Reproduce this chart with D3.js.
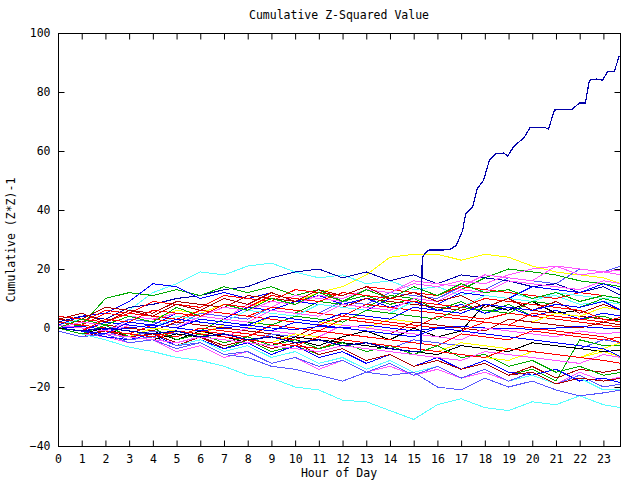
<!DOCTYPE html>
<html><head><meta charset="utf-8">
<script src="https://cdn.jsdelivr.net/npm/d3@7"></script>
<style>
body{margin:0;background:#fff;}
text{font-family:"DejaVu Sans Mono",monospace;font-size:11.5px;fill:#000;}
</style></head>
<body><svg id="c" width="640" height="480"></svg>
<script>
const hours = [0,1,2,3,4,5,6,7,8,9,10,11,12,13,14,15,16,17,18,19,20,21,22,23,23.75];
const xTicks = d3.range(0,24);
const yTicks = [-40,-20,0,20,40,60,80,100];
const title = "Cumulative Z-Squared Value";
const xTitle = "Hour of Day";
const yTitle = "Cumulative (Z*Z)-1";

const seriesColors = [
 "#55ffff","#ffff00","#5555ff","#00aa00","#0000aa","#00aa00","#0000ff","#ff55ff","#ff0000","#aa0000",
 "#0000ff","#000000","#ff0000","#55ffff","#00aa00","#ffff00","#ff0000","#aa0000","#0000ff","#ff55ff",
 "#ff0000","#5555ff","#00aa00","#ffff00","#ff0000","#aa0000","#ff55ff","#0000ff","#55ffff","#5555ff",
 "#55ffff","#5555ff","#000000","#ff0000","#aa0000","#00aa00","#ffff00","#ff55ff","#ff0000","#0000ff",
 "#ff55ff","#ff55ff","#00aa00","#ff0000","#aa0000","#0000ff"
];
const series = [
 [1,3,2,6,12,15,19,18,21,22,19,17,18,15,16,13,14,11,13,12,10,11,8,9,8],
 [0,2,1,4,3,6,5,8,7,10,9,12,14,18,24,25,25,23,25,24,21,19,18,17,15],
 [1,0,-1,3,2,1,5,4,3,7,6,5,9,8,12,11,10,14,13,17,16,15,20,19,21],
 [0,-1,-2,2,1,0,4,3,2,6,5,9,8,7,11,10,9,13,17,20,19,18,16,15,14],
 [2,4,3,7,8,10,11,13,14,17,19,20,17,19,16,18,15,18,17,16,14,15,12,14,11],
 [0,1,10,12,11,13,11,14,12,14,11,13,9,11,8,10,6,9,5,8,4,6,3,4,2],
 [1,4,5,9,15,14,10,12,10,12,9,11,8,10,7,9,6,8,5,7,4,6,3,5,4],
 [0,-1,3,2,1,5,4,3,8,7,11,10,9,13,12,16,15,14,18,17,16,21,20,19,19.7],
 [3,2,6,5,9,8,7,11,10,9,13,12,11,14,13,12,11,14,13,12,11,10,12,11,10],
 [4,3,7,6,5,9,8,7,11,10,9,8,7,10,9,8,7,6,8,7,6,5,4,3,2],
 [0,-1,3,2,1,5,4,3,7,6,9,8,7,6,10,9,8,12,11,10,14,13,12,15,12.9],
 [0,-2,0,-3,-1,-4,-1,-3,-5,-2,-4,-6,-3,-1,-4,0,-3,-1,8,6,9,5,6,3,3],
 [2,1,5,4,3,2,6,5,4,7,6,5,4,8,7,6,5,4,3,5,4,3,2,1,0.3],
 [0,-1,2,1,0,4,3,2,6,5,4,8,7,6,5,9,8,7,11,10,9,12,11,10,10.5],
 [1,0,-1,-2,1,0,-1,3,2,1,4,3,2,6,5,4,3,7,6,5,9,8,7,10,8.5],
 [0,-1,2,1,0,-1,-2,1,0,4,3,2,1,0,3,2,1,0,-1,3,2,5,4,7,6.1],
 [1,0,-1,-2,1,0,-1,-2,-3,1,0,-1,3,2,1,0,4,3,2,1,5,4,3,2,3.7],
 [3,2,1,0,-1,2,1,0,-1,-2,-3,1,0,-1,-2,2,1,0,-1,3,2,1,0,2,1],
 [0,0.5,-0.5,0,1,0,-1,0,1,0,-0.5,0.5,0,1,0,-1,0,0.5,0,0,-0.5,0,0.5,0,0],
 [0,-1,-2,1,0,-1,-2,-3,0,-1,-2,-3,1,0,-1,-2,-3,-4,0,-1,-2,-3,-1,-2,-1.4],
 [2,1,0,-1,-2,-3,0,-1,-2,-3,-4,-1,-2,-3,-4,-5,-6,-2,-3,-4,-1,-2,-3,-4,-3],
 [0,-1,-2,-3,-1,-2,-3,-4,-5,-2,-3,-4,-5,-6,-7,-4,-5,-6,-7,-8,-5,-6,-7,-4,-5],
 [0,-2,-1,-4,-2,-5,-3,-7,-4,-8,-6,-9,-7,-11,-9,-13,-10,-14,-12,-16,-14,-18,-4,-6,-6],
 [1,0,-1,-2,-3,-1,-2,-3,-4,-5,-6,-3,-4,-5,-6,-7,-8,-5,-6,-7,-8,-9,-10,-8,-9.8],
 [0,-1,-2,-3,-4,-1,-2,-3,-4,-5,-6,-7,-4,-5,-6,-7,-8,-9,-10,-7,-8,-9,-10,-11,-12],
 [-1,-3,-1,-4,-2,-6,-3,-7,-5,-9,-6,-10,-8,-12,-9,-13,-11,-14,-12,-16,-13,-17,-14,-15,-14],
 [0,-2,-3,-5,-4,-8,-6,-10,-8,-12,-10,-14,-11,-15,-13,-16,-14,-17,-15,-18,-16,-19,-15,-18,-16.5],
 [0,-1,-3,-4,-2,-6,-4,-7,-5,-9,-6,-10,-8,-12,-9,-13,-10,-14,-11,-15,-16,-14,-18,-17,-18.6],
 [0,-2,-1,-4,-3,-6,-4,-8,-6,-10,-8,-12,-10,-14,-11,-15,-13,-17,-14,-18,-16,-19,-17,-21,-21],
 [-1,-3,-2,-5,-4,-7,-5,-9,-8,-12,-10,-13,-11,-15,-12,-16,-13,-17,-14,-18,-15,-19,-16,-20,-19],
 [0,-2,-4,-6.5,-8,-10,-11,-13,-16,-17,-20,-21,-24.5,-25,-28,-31,-26,-24,-27,-28,-25,-26,-23,-26,-27],
 [0,-2,-1,-4,-3,-6,-5,-9,-10,-13,-14,-16,-18,-15,-16,-15,-20,-21,-17,-20,-18,-21,-23,-22,-21],
 [0,-1,-2,-3,-4,-2,-3,-4,-5,-6,-3,-4,-5,-6,-7,-8,-9,-6,-7,-8,-5,-6,-7,-8,-7.5],
 [4,3,2,5,4,3,6,5,4,3,2,1,4,3,2,1,0,-1,2,1,0,-1,-2,-3,-5],
 [0,-2,-1,-3,-2,-5,-3,-6,-4,-7,-5,-9,-7,-11,-9,-13,-11,-14,-12,-16,-15,-19,-17,-18,-17],
 [0,-2,1,-3,0,-4,-2,-5,-3,-6,-4,-7,-5,-8,-6,-9,-6,-10,-9,-13,-11,-15,-13,-16,-15],
 [0,-1,-2,-3,0,-1,-2,-3,-4,-5,-2,-3,-4,-5,-6,-7,-8,-9,-10,-11,-8,-9,-10,-7,-5],
 [0,-1,-2,-3,-4,-5,-3,-4,-5,-6,-7,-8,-6,-7,-8,-9,-10,-11,-8,-9,-10,-11,-12,-9,-10],
 [1,0,-1,-2,-3,-1,-2,-3,-4,-5,-6,-3,-4,-5,-6,-7,-8,-9,-10,-7,-8,-9,-10,-11,-12],
 [0,-1,2,1,0,3,2,1,0,-1,2,1,0,-1,-2,-3,0,-1,-2,-3,-4,-5,-6,-7,-9.8],
 [0,2,1,4,3,5,4,7,6,9,8,11,10,13,12,15,14,16,15,18,20,21,18,19,18],
 [1,0,-1,2,1,0,4,3,2,6,5,4,8,7,6,10,9,13,12,16,15,14,13,16,15],
 [0,3,1,4,2,7,4,8,6,10,8,12,9,13,10,14,11,15,12,13,10,12,9,11,10],
 [0,-1,3,2,6,5,4,8,7,11,10,9,12,11,10,9,8,7,10,9,8,7,6,3,2],
 [3,5,2,6,4,8,6,10,8,12,9,13,11,14,10,12,9,11,7,10,6,9,5,8,6],
 [0,-1,-2,2,1,0,3,2,1,4,3,2,5,4,3,7,6,5,8,7,6,8,7,9,6]
];
const runawayColor = "#0000aa";
const runawayHours = [0,1,2,3,4,5,6,7,8,9,10,11,12,13,14,15,15.3,15.36,15.6,16.5,16.8,17.06,17.19,17.48,17.69,17.94,18.2,18.45,18.79,18.96,19.21,19.67,19.92,20.51,20.68,20.94,21.69,21.99,22.24,22.41,22.7,22.96,23.17,23.46,23.67];
const runawayValues = [0,-1,0,-1,-2,-1,-3,-2,-4,-3,-5,-4,-6,-5,-7,-8,-8,24,26.4,26.5,28,33,38.6,41,47.4,50,57,59,59.3,58.3,61.4,64.7,68.1,68.1,67.4,73.9,74.2,76.3,76.3,84,84.4,84,86.8,87,92.2];

const svg = d3.select("#c");
const L=58, R=620, T=33, B=446;
const x = d3.scaleLinear().domain([0,23.7]).range([L,R]);
const y = d3.scaleLinear().domain([-40,100]).range([B,T]);
const line = d3.line().x(d=>x(d[0])).y(d=>y(d[1]));

const g = svg.append("g");
series.forEach((vals,i)=>{
  g.append("path").datum(hours.map((h,j)=>[h,vals[j]]))
   .attr("d",line).attr("fill","none").attr("stroke",seriesColors[i])
   .attr("stroke-width",1).attr("shape-rendering","crispEdges");
});
g.append("path").datum(runawayHours.map((h,j)=>[h,runawayValues[j]]))
 .attr("d",line).attr("fill","none").attr("stroke",runawayColor)
 .attr("stroke-width",1.2).attr("shape-rendering","crispEdges");

svg.append("rect").attr("x",L+0.5).attr("y",T+0.5).attr("width",R-L).attr("height",B-T)
  .attr("fill","none").attr("stroke","#000").attr("stroke-width",1);

svg.append("g").attr("transform",`translate(0,${B+0.5})`)
  .call(d3.axisBottom(x).tickValues(xTicks).tickSizeInner(-6).tickSizeOuter(0).tickPadding(8).tickFormat(d3.format("d")))
  .call(a=>{a.select(".domain").remove();a.selectAll("text").style("font-family","DejaVu Sans Mono").style("font-size","11.5px");});
svg.append("g").attr("transform",`translate(0,${T+0.5})`)
  .call(d3.axisTop(x).tickValues(xTicks.filter(d=>d>0)).tickSizeInner(-6).tickSizeOuter(0).tickFormat(""))
  .call(a=>a.select(".domain").remove());
svg.append("g").attr("transform",`translate(${L+0.5},0)`)
  .call(d3.axisLeft(y).tickValues(yTicks).tickSizeInner(-6).tickSizeOuter(0).tickPadding(8))
  .call(a=>{a.select(".domain").remove();a.selectAll("text").style("font-family","DejaVu Sans Mono").style("font-size","11.5px");});
svg.append("g").attr("transform",`translate(${R+0.5},0)`)
  .call(d3.axisRight(y).tickValues(yTicks).tickSizeInner(-6).tickSizeOuter(0).tickFormat(""))
  .call(a=>a.select(".domain").remove());

svg.append("text").attr("x",339).attr("y",19).attr("text-anchor","middle").text(title);
svg.append("text").attr("x",339).attr("y",477).attr("text-anchor","middle").text(xTitle);
svg.append("text").attr("transform","translate(15,240) rotate(-90)").attr("text-anchor","middle").text(yTitle);
</script></body></html>
